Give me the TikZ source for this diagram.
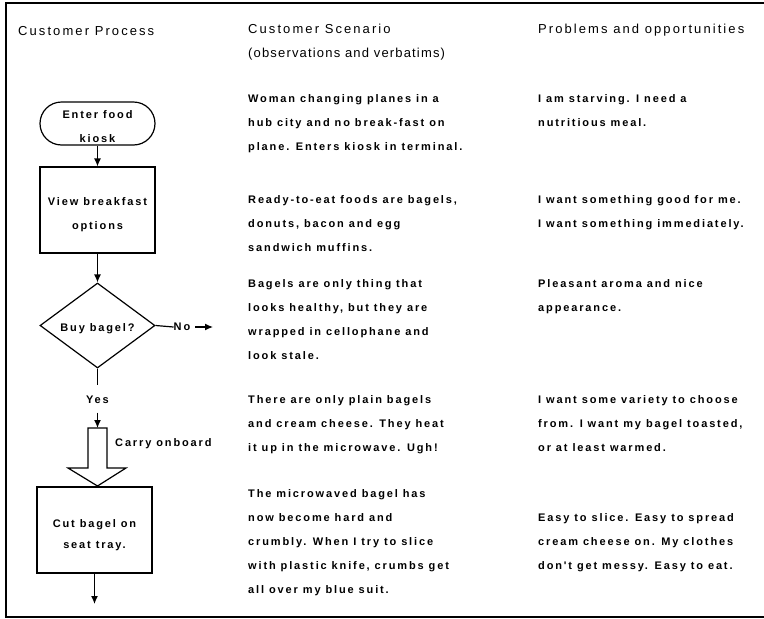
\documentclass[tikz,border=0pt]{standalone}
\usepackage{fontspec}
\setmainfont{Liberation Sans}
\newfontfamily\hdrfont[LetterSpace=16]{Liberation Sans}
\newfontfamily\subfont[LetterSpace=9]{Liberation Sans}
\newfontfamily\bdyfont[LetterSpace=17]{Liberation Sans}
\usetikzlibrary{shapes.misc,shapes.geometric,arrows.meta}
\begin{document}
\begin{tikzpicture}[x=1pt,y=-1pt,
  hdr/.style={anchor=base west, inner sep=0pt, font=\hdrfont\fontsize{13}{24}\selectfont, align=left},
  bdy/.style={anchor=base west, inner sep=0pt, font=\bdyfont\bfseries\fontsize{11}{24}\selectfont, align=left},
  flow/.style={draw, line width=1.2pt, inner sep=0pt, align=center, font=\bdyfont\bfseries\fontsize{11}{24}\selectfont},
  lbl/.style={inner sep=0pt, font=\bdyfont\bfseries\fontsize{11}{24}\selectfont},
  conn/.style={line width=1.2pt},
  arr/.style={line width=1.2pt, -{Latex[length=8pt,width=7pt]}}
]
\useasboundingbox (0,0) rectangle (764,619);
\draw[line width=1.6pt] (772,3) -- (6,3) -- (6,617) -- (772,617);

% headers
\node[hdr] (h1) at (18,35.5) {Customer Process};
\node[hdr] (h2) at (248,33.5) {Customer Scenario};
\node[hdr, font=\subfont\fontsize{13}{24}\selectfont] (h2b) at (248,57.5) {(observations and verbatims)};
\node[hdr] (h3) at (538,33.5) {Problems and opportunities};

% scenario column (base = last line baseline)
\node[bdy] (s1) at (248,150) {Woman changing planes in a\\hub city and no break-fast on\\plane. Enters kiosk in terminal.};
\node[bdy] (s2) at (248,251) {Ready-to-eat foods are bagels,\\donuts, bacon and egg\\sandwich muffins.};
\node[bdy] (s3) at (248,359) {Bagels are only thing that\\looks healthy, but they are\\wrapped in cellophane and\\look stale.};
\node[bdy] (s4) at (248,451) {There are only plain bagels\\and cream cheese. They heat\\it up in the microwave. Ugh!};
\node[bdy] (s5) at (248,593) {The microwaved bagel has\\now become hard and\\crumbly. When I try to slice\\with plastic knife, crumbs get\\all over my blue suit.};

% problems column
\node[bdy] (p1) at (538,126) {I am starving. I need a\\nutritious meal.};
\node[bdy] (p2) at (538,227) {I want something good for me.\\I want something immediately.};
\node[bdy] (p3) at (538,311) {Pleasant aroma and nice\\appearance.};
\node[bdy] (p4) at (538,451) {I want some variety to choose\\from. I want my bagel toasted,\\or at least warmed.};
\node[bdy] (p5) at (538,569) {Easy to slice. Easy to spread\\cream cheese on. My clothes\\don't get messy. Easy to eat.};

% flowchart
\node[flow, rounded rectangle, minimum width=115pt, minimum height=43pt] (start) at (97.5,123.5) {\rule{0pt}{14pt}Enter food\\kiosk};
\node[flow, rectangle, minimum width=115pt, minimum height=86pt] (view) at (97.5,210) {\rule{0pt}{17pt}View breakfast\\options};
\node[flow, diamond, aspect=1.35, minimum width=115pt, minimum height=85pt] (buy) at (97.5,325.5) {\rule{0pt}{14pt}Buy bagel?};
\node[lbl] (no) at (182,327) {No};
\coordinate (noend) at (213,327);
\node[lbl] (yes) at (97.5,400) {Yes};
\coordinate (ystop) at (97.5,385);
\coordinate (bat) at (97.5,428);
\coordinate (batip) at (97.5,486);
\node[lbl, anchor=west] (carry) at (115,444) {Carry onboard};
\node[flow, rectangle, minimum width=115pt, minimum height=86pt, font=\bdyfont\bfseries\fontsize{11}{21}\selectfont] (cut) at (94.5,530) {\rule{0pt}{18pt}Cut bagel on\\seat tray.};
\coordinate (cutend) at (94.5,604);

\draw[arr] (start.south) -- (view.north);
\draw[arr] (view.south) -- (buy.north);
\draw[conn] (buy.east) -- (no.west);
\draw[arr] ([xshift=5pt]no.east) -- (noend);
\draw[conn] (buy.south) -- (ystop);
\draw[arr] ([yshift=-8.5pt]yes.south) -- (bat);
\draw[line width=1.2pt] (88,428) -- (bat) -- (107,428) -- (107,468) -- (126,468) -- (batip) -- (68,468) -- (88,468) -- cycle;
\draw[arr] (cut.south) -- (cutend);
\end{tikzpicture}
\end{document}
